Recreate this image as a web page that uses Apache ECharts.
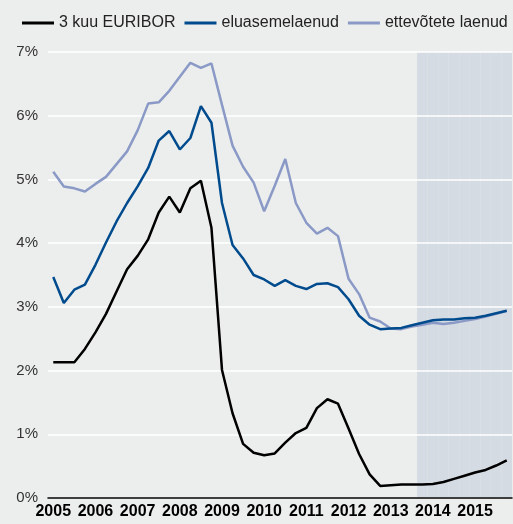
<!DOCTYPE html>
<html>
<head>
<meta charset="utf-8">
<script src="https://cdn.jsdelivr.net/npm/echarts@6/dist/echarts.min.js"></script>
<style>
  html, body { margin: 0; padding: 0; background: #eceeed; }
  #chart { width: 513px; height: 524px; }
</style>
</head>
<body>
<div id="chart"></div>
<script>
// kvartalid 2005Q1 ... 2015Q4
const years = [2005, 2006, 2007, 2008, 2009, 2010, 2011, 2012, 2013, 2014, 2015]
const quarters = []
years.forEach(y => { for (let q = 1; q <= 4; q++) quarters.push(y + 'Q' + q) })

const euribor = [
  2.13, 2.13, 2.13, 2.34, 2.60, 2.89, 3.24, 3.59, 3.80, 4.06, 4.48,
  4.73, 4.48, 4.86, 4.98, 4.24, 2.01, 1.33, 0.85, 0.71, 0.67, 0.70,
  0.87, 1.02, 1.10, 1.41, 1.55, 1.48, 1.09, 0.69, 0.37, 0.19, 0.20,
  0.21, 0.21, 0.21, 0.22, 0.25, 0.30, 0.35, 0.40, 0.44, 0.51, 0.59
]
const eluasemelaenud = [
  3.47, 3.06, 3.27, 3.35, 3.66, 4.01, 4.34, 4.63, 4.89, 5.18, 5.61,
  5.76, 5.47, 5.65, 6.15, 5.89, 4.63, 3.97, 3.76, 3.50, 3.43, 3.33,
  3.42, 3.33, 3.28, 3.36, 3.37, 3.31, 3.12, 2.86, 2.72, 2.65, 2.66,
  2.67, 2.71, 2.75, 2.79, 2.80, 2.80, 2.82, 2.83, 2.86, 2.90, 2.94
]
const ettevotted = [
  5.12, 4.89, 4.86, 4.81, 4.93, 5.04, 5.24, 5.44, 5.77, 6.19, 6.21,
  6.39, 6.61, 6.83, 6.75, 6.82, 6.17, 5.53, 5.20, 4.95, 4.50, 4.90,
  5.32, 4.63, 4.32, 4.15, 4.24, 4.11, 3.44, 3.20, 2.83, 2.77, 2.66,
  2.65, 2.69, 2.72, 2.75, 2.73, 2.75, 2.78, 2.81, 2.85, 2.89, 2.94
]
// prognoosiperiood (varjutatud ala)
const forecastFrom = '2013Q4'
const yMax = 7

const font = 'Liberation Sans, Arial, Helvetica, sans-serif'
const startIdx = quarters.indexOf(forecastFrom)
const shade = quarters.map((q, i) => i >= startIdx ? yMax : null)

const chart = echarts.init(document.getElementById('chart'))
chart.setOption({
  backgroundColor: '#eceeed',
  animation: false,
  textStyle: { fontFamily: font },
  legend: {
    data: ['3 kuu EURIBOR', 'eluasemelaenud', 'ettevõtete laenud'],
    icon: 'rect',
    left: 22,
    top: 15,
    padding: 0,
    itemWidth: 32,
    itemHeight: 3,
    itemGap: 9,
    textStyle: { fontSize: 16, color: '#222', fontFamily: font }
  },
  grid: { left: 48, right: 1, top: 52, bottom: 26 },
  xAxis: {
    type: 'category',
    data: quarters,
    z: 1,
    axisLine: { lineStyle: { color: '#000', width: 1.5 } },
    axisTick: { show: false },
    axisLabel: {
      interval: 3,
      margin: 6,
      color: '#000',
      fontWeight: 'bold',
      fontSize: 16,
      fontFamily: font,
      formatter: v => v.slice(0, 4)
    }
  },
  yAxis: {
    type: 'value',
    min: 0,
    max: yMax,
    interval: 1,
    z: 1,
    axisLine: { show: false },
    axisTick: { show: false },
    splitLine: { lineStyle: { color: '#ffffff', width: 1.5 } },
    axisLabel: { margin: 10, fontSize: 15, color: '#333', fontFamily: font, formatter: '{value}%' }
  },
  series: [
    {
      name: 'prognoos',
      type: 'bar',
      data: shade,
      barCategoryGap: '0%',
      itemStyle: { color: '#d4dbe2' },
      silent: true,
      z: 0
    },
    {
      name: '3 kuu EURIBOR',
      type: 'line',
      data: euribor,
      symbol: 'none',
      z: 4,
      lineStyle: { color: '#000000', width: 2.5 },
      itemStyle: { color: '#000000' }
    },
    {
      name: 'eluasemelaenud',
      type: 'line',
      data: eluasemelaenud,
      symbol: 'none',
      z: 3,
      lineStyle: { color: '#004b8d', width: 2.5 },
      itemStyle: { color: '#004b8d' }
    },
    {
      name: 'ettevõtete laenud',
      type: 'line',
      data: ettevotted,
      symbol: 'none',
      z: 2,
      lineStyle: { color: '#8a99c6', width: 2.5 },
      itemStyle: { color: '#8a99c6' }
    }
  ]
})
</script>
</body>
</html>
